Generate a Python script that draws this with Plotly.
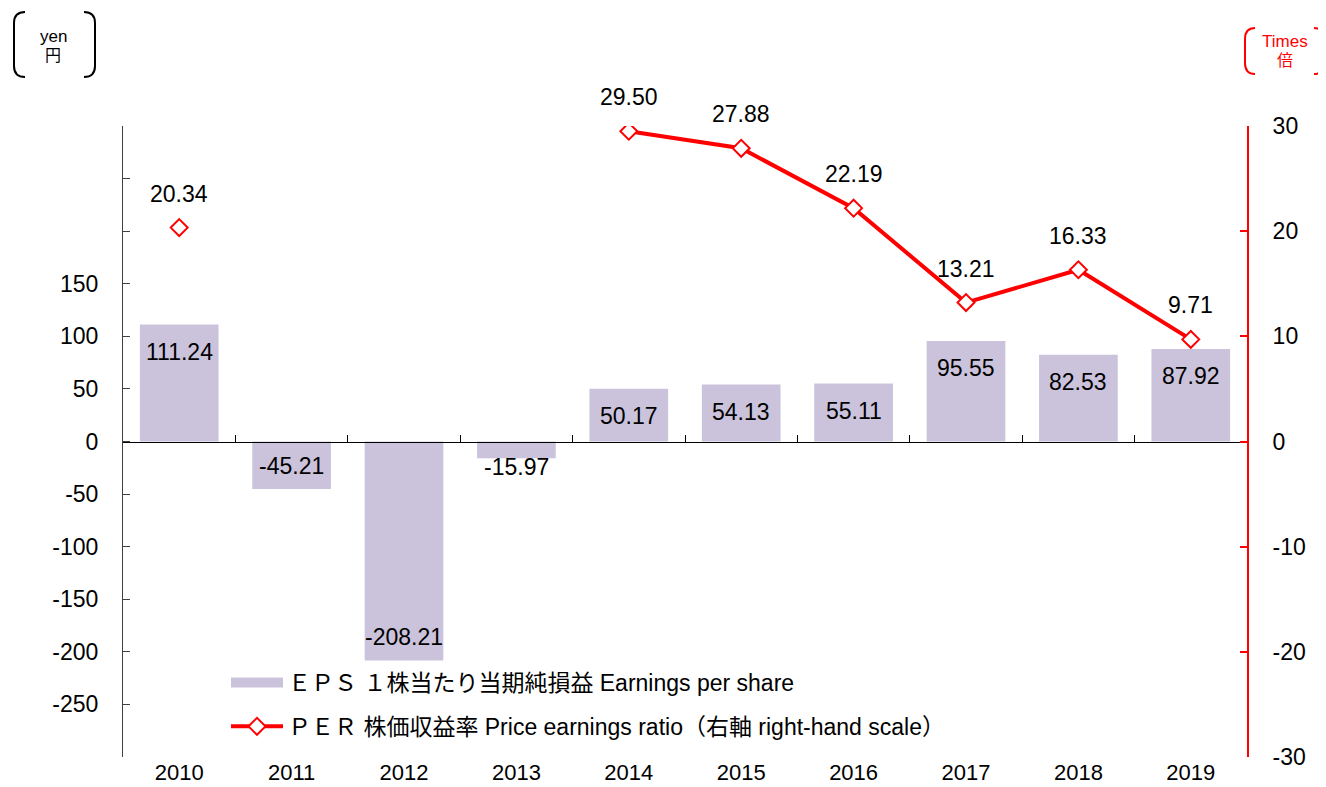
import plotly.graph_objects as go

years = ["2010", "2011", "2012", "2013", "2014", "2015", "2016", "2017", "2018", "2019"]
eps = [111.24, -45.21, -208.21, -15.97, 50.17, 54.13, 55.11, 95.55, 82.53, 87.92]
per = [20.34, None, None, None, 29.50, 27.88, 22.19, 13.21, 16.33, 9.71]

left_ticks = [-300, -250, -200, -150, -100, -50, 0, 50, 100, 150, 200, 250, 300]
left_labels = ["", "-250", "-200", "-150", "-100", "-50", "0", "50", "100", "150", "", "", ""]
right_ticks = [-30, -20, -10, 0, 10, 20, 30]
right_labels = ["-30", "-20", "-10", "0", "10", "20", "30"]

eps_name = "ＥＰＳ １株当たり当期純損益 Earnings per share"
per_name = "ＰＥＲ 株価収益率 Price earnings ratio（右軸 right-hand scale）"

BAR_COLOR = "#CBC3DC"
RED = "#FF0000"
FONT = "Liberation Sans, Arial, Noto Sans CJK JP, sans-serif"
FS = 23

# page offset (body margin) -> figure coordinates
OFF = 8
W_PX, H_PX = 1326 - OFF, 787 - OFF
L, R, T, B = 123 - OFF, 1247 - OFF, 126 - OFF, 757 - OFF
PW, PH = R - L, B - T


def px(x):
    """page pixel x -> paper coordinate"""
    return (x - OFF - L) / PW


def py(y):
    """page pixel y -> paper coordinate"""
    return (B - (y - OFF)) / PH


xs = list(range(len(years)))

fig = go.Figure()

fig.add_trace(go.Bar(
    x=xs, y=eps, marker=dict(color=BAR_COLOR, line=dict(width=0)),
    width=0.7, showlegend=False, name=eps_name,
))

# carrier for the zero-line category axis
fig.add_trace(go.Scatter(x=[None], y=[None], xaxis="x2", yaxis="y",
                         showlegend=False, hoverinfo="skip", mode="lines"))

# legend proxy for bars
fig.add_trace(go.Scatter(x=[None], y=[None], mode="lines", name=eps_name,
                         line=dict(color=BAR_COLOR, width=14),
                         legendgroup="a", hoverinfo="skip"))

fig.add_trace(go.Scatter(
    x=xs, y=per, yaxis="y2", mode="lines+markers", name=per_name,
    line=dict(color=RED, width=4), connectgaps=False,
    marker=dict(symbol="diamond", size=13, color="white", line=dict(color=RED, width=2)),
    legendgroup="b",
))

annotations = []
scale = PH / 600.0
for i, v in enumerate(eps):
    if v > 0:
        ys = -27
    elif abs(v) * scale > 35:
        ys = 23
    else:
        ys = -9
    annotations.append(dict(x=i, y=v, xref="x", yref="y", text=f"{v:.2f}",
                            showarrow=False, yshift=ys, xanchor="center", yanchor="middle",
                            font=dict(size=FS, color="black", family=FONT)))
for i, v in enumerate(per):
    if v is None:
        continue
    annotations.append(dict(x=i, y=v, xref="x", yref="y2", text=f"{v:.2f}",
                            showarrow=False, yshift=34, xanchor="center", yanchor="middle",
                            font=dict(size=FS, color="black", family=FONT)))

# unit labels
unit = dict(xref="paper", yref="paper", showarrow=False, xanchor="center", yanchor="middle")
annotations += [
    dict(x=px(53), y=py(36), text="yen", font=dict(size=17, color="black", family=FONT), **unit),
    dict(x=px(53), y=py(55), text="円", font=dict(size=16, color="black", family=FONT), **unit),
    dict(x=px(1285), y=py(41), text="Times", font=dict(size=17, color=RED, family=FONT), **unit),
    dict(x=px(1285), y=py(60), text="倍", font=dict(size=16, color=RED, family=FONT), **unit),
]


def bracket(x_end, x_vert, y_top, y_bot, color):
    r = 11
    p = (f"M {px(x_end)},{py(y_top)} "
         f"Q {px(x_vert)},{py(y_top)} {px(x_vert)},{py(y_top + r)} "
         f"L {px(x_vert)},{py(y_bot - r)} "
         f"Q {px(x_vert)},{py(y_bot)} {px(x_end)},{py(y_bot)}")
    return dict(type="path", path=p, xref="paper", yref="paper",
                line=dict(color=color, width=2))


shapes = [
    bracket(25, 14, 12, 77, "black"),
    bracket(84, 95, 12, 77, "black"),
    bracket(1255, 1245, 28, 74, RED),
    bracket(1314, 1323, 28, 74, RED),
]

fig.update_layout(
    width=W_PX, height=H_PX,
    margin=dict(l=L, r=W_PX - R, t=T, b=H_PX - B, pad=0, autoexpand=False),
    paper_bgcolor="white", plot_bgcolor="white",
    font=dict(family=FONT, size=FS, color="black"),
    bargap=0.3,
    xaxis=dict(range=[-0.5, 9.5], tickvals=xs, ticktext=years, showgrid=False,
               zeroline=False, showline=False, ticks="", ticklabelstandoff=0,
               automargin=False, tickfont=dict(size=22, color="black")),
    xaxis2=dict(overlaying="x", anchor="free", position=0.5, range=[-0.5, 9.5],
                showline=True, linecolor="black", linewidth=1,
                ticks="inside", ticklen=7, tickcolor="black", tickwidth=1,
                tickvals=[i + 0.5 for i in xs[:-1]], showticklabels=False,
                showgrid=False, zeroline=False, automargin=False),
    yaxis=dict(range=[-300, 300], tickvals=left_ticks, ticktext=left_labels,
               showgrid=False, zeroline=False, showline=True, linecolor="#404040",
               linewidth=1, ticks="inside", ticklen=7, tickcolor="#404040",
               ticklabelstandoff=19, automargin=False,
               tickfont=dict(size=FS, color="black")),
    yaxis2=dict(range=[-30, 30], tickvals=right_ticks, ticktext=right_labels,
                overlaying="y", side="right",
                showgrid=False, zeroline=False, showline=True, linecolor=RED,
                linewidth=2, ticks="inside", ticklen=7, tickcolor=RED, tickwidth=2,
                ticklabelstandoff=19, automargin=False,
                tickfont=dict(size=FS, color="black")),
    legend=dict(x=px(226), y=py(661), xanchor="left", yanchor="top",
                bgcolor="rgba(0,0,0,0)", borderwidth=0, traceorder="grouped",
                tracegroupgap=11, itemwidth=52,
                font=dict(size=FS, color="black", family=FONT)),
    annotations=annotations,
    shapes=shapes,
    showlegend=True,
)

fig.write_html("out.html")
